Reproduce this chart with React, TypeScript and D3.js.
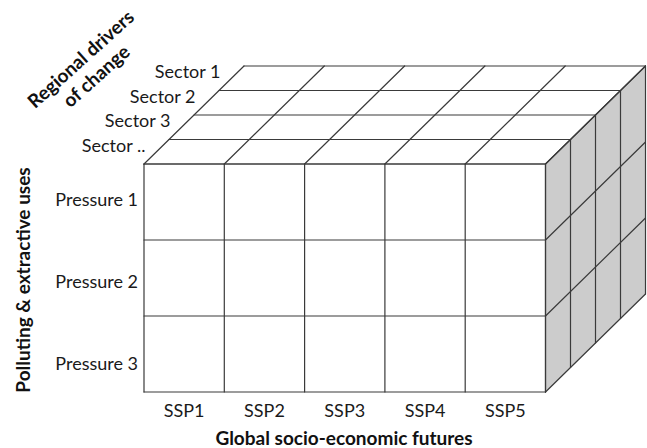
import React from "react";
import * as d3 from "d3";

const futures = ["SSP1", "SSP2", "SSP3", "SSP4", "SSP5"];
const pressures = ["Pressure 1", "Pressure 2", "Pressure 3"];
const sectors = ["Sector ..", "Sector 3", "Sector 2", "Sector 1"]; // front to back
const xTitle = "Global socio-economic futures";
const yTitle = "Polluting & extractive uses";
const zTitle = ["Regional drivers", "of change"];

const W = 647;
const H = 448;
const STROKE = "#3a3a3a";
const FONT = "Lato, 'Open Sans', sans-serif";

export default function App() {
  const x = d3.scaleBand<string>().domain(futures).range([144, 545.5]);
  const y = d3.scaleBand<string>().domain(pressures).range([164, 392]);
  const depthIdx = d3.range(sectors.length + 1);
  // depth offsets (oblique projection)
  const dx = d3.scaleLinear().domain([0, sectors.length]).range([0, 100]);
  const dy = d3.scaleLinear().domain([0, sectors.length]).range([0, -98]);
  const P = (px: number, py: number, d: number): [number, number] => [px + dx(d), py + dy(d)];

  const x0 = x.range()[0], x1 = x.range()[1];
  const y0 = y.range()[0], y1 = y.range()[1];
  const D = sectors.length;
  const colEdges = [...futures.map((f) => x(f)!), x1];
  const rowEdges = [...pressures.map((p) => y(p)!), y1];

  const line = d3.line();
  const poly = (pts: [number, number][]) => line(pts)! + "Z";

  const topFace = poly([P(x0, y0, 0), P(x1, y0, 0), P(x1, y0, D), P(x0, y0, D)]);
  const sideFace = poly([P(x1, y0, 0), P(x1, y0, D), P(x1, y1, D), P(x1, y1, 0)]);

  const segs: [[number, number], [number, number]][] = [];
  // front grid
  colEdges.forEach((cx) => segs.push([[cx, y0], [cx, y1]]));
  rowEdges.forEach((ry) => segs.push([[x0, ry], [x1, ry]]));
  // top grid
  depthIdx.forEach((d) => segs.push([P(x0, y0, d), P(x1, y0, d)]));
  colEdges.forEach((cx) => segs.push([P(cx, y0, 0), P(cx, y0, D)]));
  // side grid
  depthIdx.forEach((d) => segs.push([P(x1, y0, d), P(x1, y1, d)]));
  rowEdges.forEach((ry) => segs.push([P(x1, ry, 0), P(x1, ry, D)]));

  const pressureLabelY = d3.scalePoint<string>().domain(pressures).range([199, 363]);

  return (
    <svg width={W} height={H} style={{ position: "fixed", left: 0, top: 0, background: "#fff" }}>
      <rect width={W} height={H} fill="#fff" />
      <path d={sideFace} fill="#cccccc" />
      <path d={topFace} fill="#fff" />
      <rect x={x0} y={y0} width={x1 - x0} height={y1 - y0} fill="#fff" />
      <g stroke={STROKE} strokeWidth={1.2} strokeLinecap="round">
        {segs.map((s, i) => (
          <line key={i} x1={s[0][0]} y1={s[0][1]} x2={s[1][0]} y2={s[1][1]} />
        ))}
      </g>
      <g fontFamily={FONT} fontSize={18} fill="#1a1a1a">
        {futures.map((f) => (
          <text key={f} x={x(f)! + x.bandwidth() / 2} y={410} textAnchor="middle" dominantBaseline="central">
            {f}
          </text>
        ))}
        {pressures.map((p) => (
          <text key={p} x={138} y={pressureLabelY(p)!} textAnchor="end" dominantBaseline="central">
            {p}
          </text>
        ))}
        {sectors.map((s, i) => {
          const [sx, sy] = P(x0, y0, i + 0.5);
          return (
            <text key={s} x={sx - 11} y={sy - 7} textAnchor="end" dominantBaseline="central">
              {s}
            </text>
          );
        })}
      </g>
      <g fontFamily={FONT} fontSize={19} fontWeight="bold" fill="#111">
        <text x={344} y={437} textAnchor="middle" dominantBaseline="central">
          {xTitle}
        </text>
        <text
          transform={`translate(22,280) rotate(-90)`}
          textAnchor="middle"
          dominantBaseline="central"
        >
          {yTitle}
        </text>
        <g transform={`translate(88,67) rotate(-42)`}>
          {zTitle.map((t, i) => (
            <text key={t} x={0} y={(i - 0.5) * 23} textAnchor="middle" dominantBaseline="central">
              {t}
            </text>
          ))}
        </g>
      </g>
    </svg>
  );
}
